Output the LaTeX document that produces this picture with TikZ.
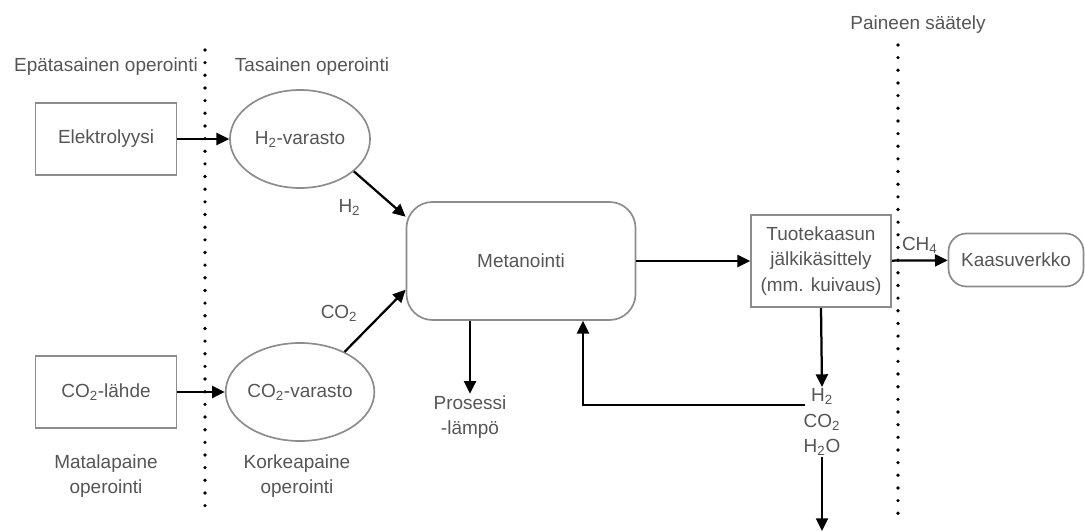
\documentclass[tikz,border=0pt]{standalone}
\usepackage{fontspec}
\setmainfont{Liberation Sans}
\usetikzlibrary{arrows.meta,shapes.geometric}
\definecolor{textgray}{HTML}{555555}
\definecolor{linegray}{HTML}{8C8C8C}
\begin{document}
\begin{tikzpicture}[
  x=0.025cm, y=-0.025cm,
  every node/.style={text=textgray, font=\fontsize{13.5}{18}\selectfont, align=center},
  box/.style={draw=linegray, line width=1.2pt, minimum width=3.525cm, minimum height=1.8cm},
  tank/.style={ellipse, draw=linegray, line width=1.2pt, minimum width=3.5cm, minimum height=2.45cm, inner sep=0pt},
  unit/.style={draw=linegray, line width=1.2pt, rounded corners=0.65cm},
  arr/.style={-{Triangle[length=9pt,width=8.5pt]}, line width=1.6pt, black},
  dotline/.style={line width=2.6pt, line cap=round, dash pattern=on 0pt off 9pt}
]
\useasboundingbox (0,0) rectangle (1085,531);
% boundaries
\draw[dotline] (205,50) -- (205,515);
\draw[dotline] (898,45) -- (898,514);
\node (epatas)  at (106,67) {Epätasainen operointi};
\node (tasain)  at (312,67) {Tasainen operointi};
\node (paine)   at (918,25) {Paineen säätely};
\node (matala)  at (106,476) {Matalapaine\\operointi};
\node (korkea)  at (297,476) {Korkeapaine\\operointi};
% process
\node[box]  (elektro) at (106,139) {Elektrolyysi};
\node[tank] (h2var)   at (300,139) {H\textsubscript{2}-varasto};
\node[box]  (co2lah)  at (106,392) {CO\textsubscript{2}-lähde};
\node[tank] (co2var)  at (300,392) {CO\textsubscript{2}-varasto};
\node[unit, minimum width=5.725cm, minimum height=2.95cm] (met) at (521,261) {Metanointi};
\node[box, minimum width=3.5cm, minimum height=2.3cm, inner sep=2pt] (tuote) at (821,261)
  {Tuotekaasun\\jälkikäsittely\\(mm. kuivaus)};
\node[unit, rounded corners=0.45cm, minimum width=3.375cm, minimum height=1.325cm] (kaasu) at (1016,260) {Kaasuverkko};
\node[inner sep=1pt] (prosessi) at (470,417) {Prosessi\\-lämpö};
\node[inner sep=1pt] (poisto) at (822,422) {H\textsubscript{2}\\CO\textsubscript{2}\\H\textsubscript{2}O};
\coordinate (paluu) at (805,405);
\coordinate (ulos) at (822,531);
% flows
\draw[arr] (elektro) -- (h2var);
\draw[arr] (co2lah) -- (co2var);
\draw[arr] (h2var.-31) -- node[pos=0.25, below left=6pt, xshift=5.5pt, yshift=-1.5pt] {H\textsubscript{2}} (met.159);
\draw[arr] (co2var.42) -- node[pos=0.35, above left=2pt] {CO\textsubscript{2}} (met.194);
\draw[arr] (met) -- (tuote);
\draw[arr] (tuote) -- node[pos=0.5, above=1pt] {CH\textsubscript{4}} (kaasu);
\draw[arr] (prosessi.north |- met.south) -- (prosessi.north);
\draw[arr] (tuote.south) -- (poisto.north);
\draw[arr] (poisto.south) -- (ulos);
\draw[arr] (paluu) -| (met.-44);
\end{tikzpicture}
\end{document}
